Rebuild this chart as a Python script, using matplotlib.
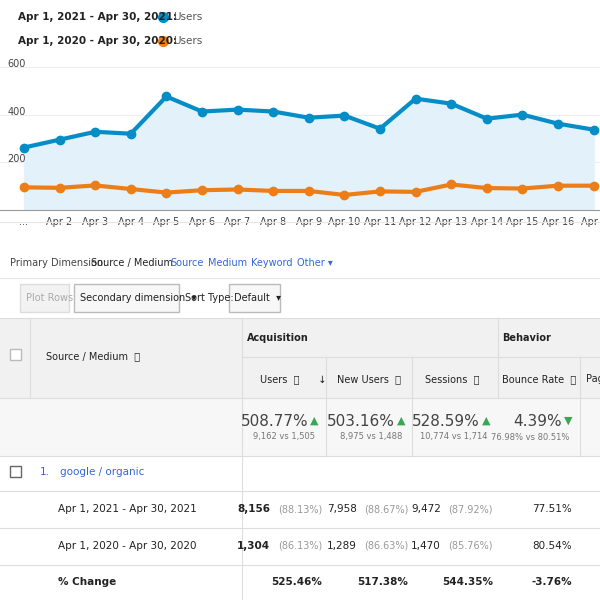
import numpy as np
import matplotlib.pyplot as plt
from matplotlib.patches import Rectangle

days = ["...", "Apr 2", "Apr 3", "Apr 4", "Apr 5", "Apr 6", "Apr 7", "Apr 8", "Apr 9",
        "Apr 10", "Apr 11", "Apr 12", "Apr 13", "Apr 14", "Apr 15", "Apr 16", "Apr 1"]
users_2021 = [262, 295, 328, 320, 476, 413, 421, 413, 387, 396, 341, 467, 446, 383, 400, 362, 337]
users_2020 = [95, 93, 103, 88, 73, 83, 86, 80, 80, 63, 78, 76, 107, 92, 90, 102, 102]
label_2021 = "Apr 1, 2021 - Apr 30, 2021:"
label_2020 = "Apr 1, 2020 - Apr 30, 2020:"

BLUE = "#058dc7"
ORANGE = "#ed7e17"
GREY = "#222222"

fig = plt.figure(figsize=(6, 6), dpi=100)

def fy(y):
    return 1 - y / 600.0

def T(x, y, s, **kw):
    kw.setdefault("fontsize", 7.5)
    kw.setdefault("color", GREY)
    kw.setdefault("va", "center")
    fig.text(x / 600.0, fy(y), s, **kw)

def R(x, y, w, h, **kw):
    fig.add_artist(Rectangle((x / 600.0, fy(y + h)), w / 600.0, h / 600.0,
                             transform=fig.transFigure, **kw))

def HL(y, x0=0, x1=600, c="#dddddd", lw=0.8):
    fig.add_artist(plt.Line2D([x0 / 600, x1 / 600], [fy(y), fy(y)], color=c, lw=lw,
                              transform=fig.transFigure))

def VL(x, y0, y1, c="#dddddd", lw=0.8):
    fig.add_artist(plt.Line2D([x / 600, x / 600], [fy(y0), fy(y1)], color=c, lw=lw,
                              transform=fig.transFigure))

# legend
T(18, 17, label_2021, fontweight="bold")
T(18, 41, label_2020, fontweight="bold")
for yy, c in [(17, BLUE), (41, ORANGE)]:
    fig.add_artist(plt.Line2D([163 / 600], [fy(yy)], color=c, marker="o", ms=7, lw=0,
                              transform=fig.transFigure))
T(173, 17, "Users", color="#555555")
T(173, 41, "Users", color="#555555")

# line chart
ax = fig.add_axes([0, fy(210), 1, 155 / 600])
x = np.arange(len(days))
ax.fill_between(x, users_2021, color="#e3f1fa")
ax.plot(x, users_2021, color=BLUE, lw=3, marker="o", ms=6)
ax.plot(x, users_2020, color=ORANGE, lw=3, marker="o", ms=6)
ax.set_xlim(-24 / 35.6, 576 / 35.6)
ax.set_ylim(0, 650)
for v in [200, 400, 600]:
    ax.axhline(v, color="#eeeeee", lw=0.8, zorder=0)
    ax.text(-0.2, v + 12, str(v), fontsize=7, color="#444444", va="center", ha="center")
ax.set_xticks(x)
ax.set_xticklabels(days, fontsize=7, color="#444444")
ax.tick_params(length=0, pad=5)
for s in ["top", "left", "right"]:
    ax.spines[s].set_visible(False)
ax.spines["bottom"].set_color("#999999")
ax.set_yticks([])
HL(222, c="#e6e6e6")

# dimension bar
T(10, 263, "Primary Dimension:", fontsize=7, color="#444444")
T(91, 263, "Source / Medium", fontsize=7)
T(170, 263, "Source", fontsize=7, color="#3367d6")
T(208, 263, "Medium", fontsize=7, color="#3367d6")
T(251, 263, "Keyword", fontsize=7, color="#3367d6")
T(297, 263, "Other \u25be", fontsize=7, color="#3367d6")
HL(278, c="#e6e6e6")

# controls
R(20, 284, 49, 28, facecolor="#f2f2f2", edgecolor="#dddddd")
T(26, 298, "Plot Rows", fontsize=7, color="#aaaaaa")
R(74, 284, 105, 28, facecolor="#f7f7f7", edgecolor="#bbbbbb")
T(80, 298, "Secondary dimension  \u25be", fontsize=7)
T(185, 298, "Sort Type:", fontsize=7)
R(229, 284, 51, 28, facecolor="#f7f7f7", edgecolor="#bbbbbb")
T(234, 298, "Default  \u25be", fontsize=7)

# table header
R(0, 318, 600, 80, facecolor="#f1f1f1", edgecolor="none")
R(0, 398, 600, 58, facecolor="#f7f7f7", edgecolor="none")
R(10, 349, 11, 11, facecolor="white", edgecolor="#bbbbbb")
T(46, 356, "Source / Medium  \u24d8", fontsize=7)
T(247, 338, "Acquisition", fontsize=7, fontweight="bold")
T(502, 338, "Behavior", fontsize=7, fontweight="bold")
T(260, 379, "Users  \u24d8      \u2193", fontsize=7)
T(337, 379, "New Users  \u24d8", fontsize=7)
T(425, 379, "Sessions  \u24d8", fontsize=7)
T(502, 379, "Bounce Rate  \u24d8", fontsize=7)
T(586, 379, "Pag", fontsize=7)
HL(318); HL(357, 242, 600); HL(398); HL(456)
for vx in [30, 242, 498]:
    VL(vx, 318, 398)
for vx in [326, 412, 580]:
    VL(vx, 357, 456)
VL(242, 398, 600)

# totals
tot = [(318, "508.77%", "9,162 vs 1,505", "\u25b2", "#3aa757"),
       (405, "503.16%", "8,975 vs 1,488", "\u25b2", "#3aa757"),
       (490, "528.59%", "10,774 vs 1,714", "\u25b2", "#3aa757"),
       (572, "4.39%", "76.98% vs 80.51%", "\u25bc", "#3aa757")]
for xr, big, small, arr, c in tot:
    T(xr - 10, 421, big, fontsize=11, ha="right", color="#444444")
    T(xr, 421, arr, fontsize=8, ha="right", color=c)
    T(xr - 3, 437, small, fontsize=6, ha="right", color="#777777")

# rows
R(10, 466, 11, 11, facecolor="white", edgecolor="#666666")
T(40, 472, "1.", fontsize=7.5, color="#3367d6")
T(60, 472, "google / organic", fontsize=7.5, color="#3367d6")
HL(491)
rows = [("Apr 1, 2021 - Apr 30, 2021", "8,156", "(88.13%)", "7,958", "(88.67%)", "9,472", "(87.92%)", "77.51%"),
        ("Apr 1, 2020 - Apr 30, 2020", "1,304", "(86.13%)", "1,289", "(86.63%)", "1,470", "(85.76%)", "80.54%")]
for i, r in enumerate(rows):
    y = 509 + 37 * i
    T(58, y, r[0], fontsize=7.5)
    T(270, y, r[1], fontsize=7.5, fontweight="bold", ha="right")
    T(322, y, r[2], fontsize=7, color="#999999", ha="right")
    T(357, y, r[3], fontsize=7.5, ha="right")
    T(408, y, r[4], fontsize=7, color="#999999", ha="right")
    T(441, y, r[5], fontsize=7.5, ha="right")
    T(493, y, r[6], fontsize=7, color="#999999", ha="right")
    T(572, y, r[7], fontsize=7.5, ha="right")
    HL(528 + 37 * i)
T(58, 582, "% Change", fontsize=7.5, fontweight="bold")
for xr, s in [(322, "525.46%"), (408, "517.38%"), (493, "544.35%"), (572, "-3.76%")]:
    T(xr, 582, s, fontsize=7.5, fontweight="bold", ha="right")

fig.savefig("out.png", dpi=100)
